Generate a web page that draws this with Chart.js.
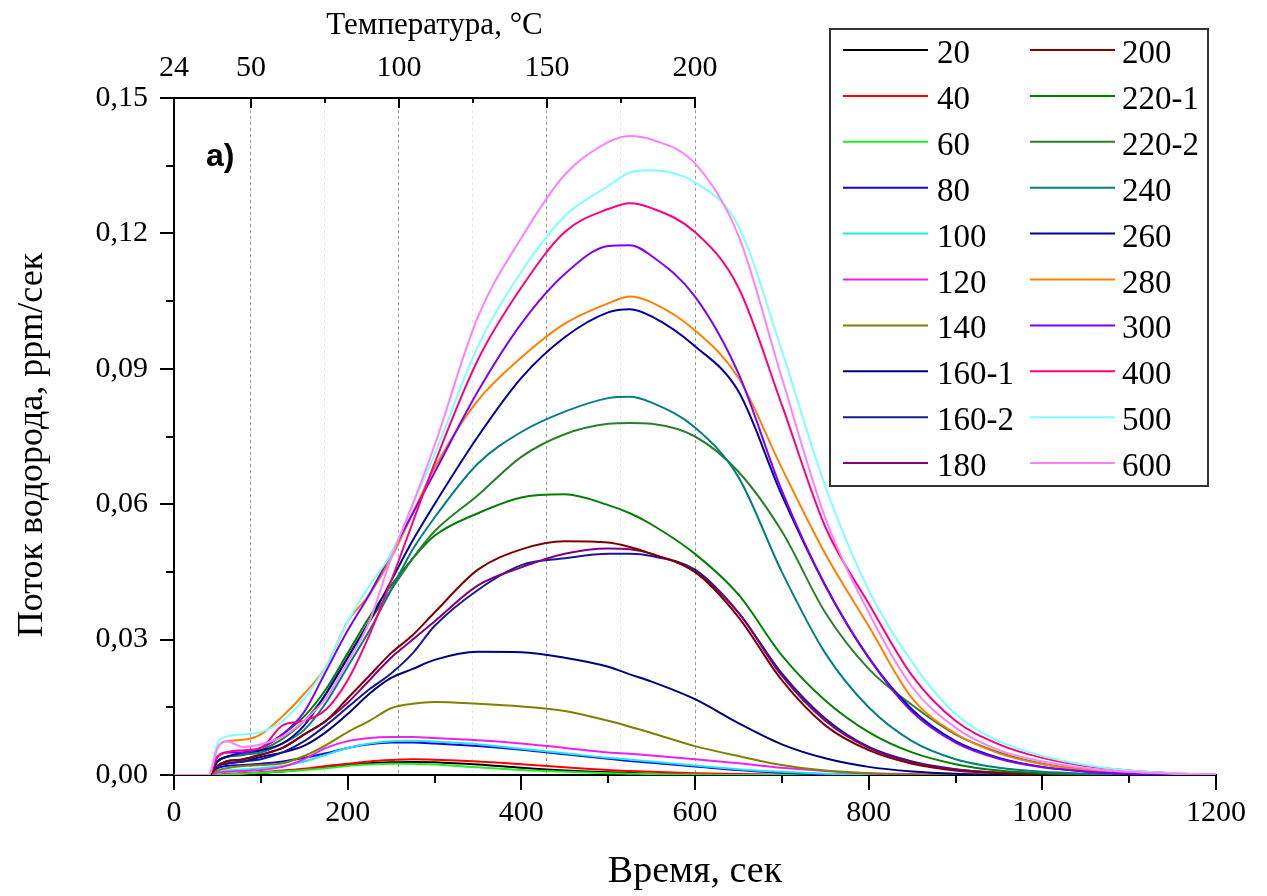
<!DOCTYPE html>
<html><head><meta charset="utf-8">
<script src="https://cdn.jsdelivr.net/npm/chart.js@4.4.0/dist/chart.umd.min.js"></script>
<style>html,body{margin:0;padding:0;background:#fff;}canvas{display:block;}</style>
</head><body>
<canvas id="c" width="1267" height="896"></canvas>
<script>
// ---- data ----
const timeSec = [0,40,50,60,80,100,125,150,175,200,225,250,275,300,350,400,450,500,525,550,600,650,700,750,800,850,900,950,1000,1050,1100,1150,1200];
const seriesLabels = ['20','40','60','80','100','120','140','160-1','160-2','180','200','220-1','220-2','240','260','280','300','400','500','600'];
const seriesColors = ['#000000','#FF0000','#22EE22','#0A0AE0','#20E8E8','#F020F0','#808000','#000080','#1A1A8F','#800080','#800000','#008000','#2A802A','#008080','#0000A0','#FF8000','#8000FF','#FF0080','#80FFFF','#FF80FF'];
const s20   = [0,0,0,0.0001,0.0003,0.0005,0.0008,0.0012,0.0017,0.0022,0.0026,0.0028,0.0029,0.0028,0.0023,0.0016,0.001,0.0006,0.0005,0.0003,0.0002,0.0001,0,0,0,0,0,0,0,0,0,0,0];
const s40   = [0,0,0,0.0002,0.0004,0.0006,0.001,0.0014,0.002,0.0025,0.003,0.0033,0.0035,0.0034,0.003,0.0024,0.0017,0.0011,0.0009,0.0007,0.0004,0.0002,0.0001,0,0,0,0,0,0,0,0,0,0];
const s60   = [0,0,0,0.0001,0.0003,0.0005,0.0008,0.0011,0.0015,0.002,0.0023,0.0025,0.0025,0.0023,0.0017,0.0011,0.0007,0.0004,0.0003,0.0002,0.0001,0,0,0,0,0,0,0,0,0,0,0,0];
const s80   = [0,0,0.0015,0.002,0.0022,0.0025,0.003,0.0038,0.0048,0.006,0.0068,0.0072,0.0072,0.007,0.0064,0.0056,0.0046,0.0036,0.0031,0.0027,0.0019,0.0011,0.0005,0.0002,0.0001,0,0,0,0,0,0,0,0];
const s100  = [0,0,0.0008,0.001,0.0012,0.0015,0.002,0.003,0.0045,0.006,0.007,0.0075,0.0076,0.0074,0.0068,0.0058,0.0048,0.0038,0.0034,0.003,0.0021,0.0013,0.0007,0.0003,0.0001,0,0,0,0,0,0,0,0];
const s120  = [0,0,0.0005,0.0007,0.0009,0.0011,0.0018,0.0035,0.006,0.0075,0.0082,0.0084,0.0084,0.0082,0.0077,0.007,0.006,0.005,0.0047,0.0043,0.0035,0.0026,0.0016,0.0009,0.0004,0.0002,0,0,0,0,0,0,0];
const s140  = [0,0,0.001,0.0015,0.002,0.0022,0.0026,0.0042,0.0066,0.0095,0.012,0.0148,0.0158,0.0162,0.0158,0.0152,0.0142,0.012,0.0107,0.0093,0.0064,0.0042,0.0022,0.001,0.0004,0.0001,0,0,0,0,0,0,0];
const s160a = [0,0,0.002,0.0025,0.003,0.004,0.005,0.0065,0.0095,0.0135,0.018,0.0215,0.0235,0.0255,0.0273,0.0272,0.026,0.024,0.0223,0.0207,0.0168,0.0115,0.0068,0.0037,0.0018,0.0008,0.0003,0.0001,0,0,0,0,0];
const s160b = [0,0,0.002,0.0025,0.003,0.0035,0.005,0.0075,0.011,0.015,0.019,0.0225,0.027,0.033,0.041,0.0465,0.048,0.049,0.049,0.0485,0.0455,0.036,0.0225,0.0125,0.0062,0.003,0.0013,0.0005,0.0002,0,0,0,0];
const s180  = [0,0,0.002,0.003,0.0035,0.0045,0.006,0.009,0.012,0.016,0.021,0.026,0.03,0.034,0.042,0.046,0.049,0.0502,0.05,0.049,0.045,0.036,0.022,0.012,0.006,0.0028,0.0012,0.0005,0.0002,0,0,0,0];
const s200  = [0,0,0.002,0.003,0.0035,0.0045,0.006,0.009,0.012,0.017,0.022,0.027,0.031,0.036,0.0455,0.05,0.0518,0.0515,0.0505,0.049,0.045,0.035,0.021,0.011,0.0055,0.0025,0.001,0.0004,0.0001,0,0,0,0];
const s220a = [0,0,0.003,0.004,0.0045,0.006,0.009,0.013,0.019,0.027,0.035,0.042,0.048,0.053,0.058,0.0615,0.0622,0.0598,0.058,0.0555,0.049,0.04,0.0265,0.0165,0.0095,0.005,0.0024,0.001,0.0004,0.0001,0,0,0];
const s220b = [0,0,0.003,0.004,0.0045,0.0055,0.008,0.012,0.018,0.026,0.034,0.041,0.048,0.054,0.062,0.0705,0.0755,0.0778,0.078,0.0778,0.075,0.0672,0.054,0.036,0.0235,0.0155,0.009,0.005,0.0025,0.0012,0.0005,0.0002,0];
const s240  = [0,0,0.003,0.004,0.0045,0.005,0.007,0.01,0.016,0.024,0.032,0.041,0.05,0.057,0.069,0.076,0.0805,0.0835,0.0838,0.0825,0.077,0.066,0.045,0.027,0.015,0.0075,0.0035,0.0016,0.0007,0.0003,0.0001,0,0];
const s260  = [0,0,0.003,0.004,0.005,0.0055,0.007,0.011,0.018,0.026,0.034,0.043,0.052,0.06,0.075,0.088,0.097,0.1025,0.1032,0.1016,0.095,0.085,0.062,0.042,0.026,0.0145,0.0075,0.0038,0.0018,0.0008,0.0003,0.0001,0];
const s280  = [0,0,0.006,0.0075,0.0078,0.009,0.013,0.018,0.024,0.034,0.04,0.048,0.058,0.068,0.083,0.0925,0.1,0.1045,0.106,0.1047,0.0985,0.088,0.068,0.049,0.033,0.017,0.0092,0.0048,0.0024,0.0011,0.0005,0.0002,0];
const s300  = [0,0,0.004,0.005,0.005,0.006,0.009,0.014,0.023,0.032,0.04,0.049,0.058,0.067,0.085,0.1,0.111,0.1172,0.1174,0.115,0.106,0.089,0.063,0.042,0.026,0.014,0.0072,0.0036,0.0017,0.0008,0.0003,0.0001,0];
const s400  = [0,0,0.004,0.005,0.0055,0.006,0.011,0.012,0.0145,0.021,0.031,0.043,0.056,0.069,0.092,0.108,0.1203,0.1254,0.1267,0.1256,0.1203,0.108,0.082,0.055,0.038,0.022,0.012,0.0068,0.0038,0.002,0.001,0.0004,0.0001];
const s500  = [0,0,0.007,0.0085,0.009,0.0095,0.012,0.017,0.024,0.034,0.042,0.049,0.06,0.071,0.095,0.1115,0.1238,0.1305,0.1335,0.134,0.1313,0.1216,0.094,0.064,0.041,0.025,0.0135,0.0075,0.0042,0.0022,0.001,0.0004,0.0001];
const s600  = [0,0,0.006,0.0075,0.0062,0.0068,0.0085,0.012,0.017,0.025,0.034,0.048,0.06,0.073,0.1015,0.119,0.133,0.1402,0.1416,0.1408,0.1355,0.1195,0.088,0.057,0.036,0.0195,0.0105,0.0055,0.003,0.0015,0.0007,0.0003,0.0001];
const seriesValues = [s20,s40,s60,s80,s100,s120,s140,s160a,s160b,s180,s200,s220a,s220b,s240,s260,s280,s300,s400,s500,s600];

const xTickValues = [0,100,200,300,400,500,600,700,800,900,1000,1100,1200];
const xLabelValues = [0,200,400,600,800,1000,1200];
const yTickValues = [0,0.015,0.03,0.045,0.06,0.075,0.09,0.105,0.12,0.135,0.15];
const yLabelValues = [0,0.03,0.06,0.09,0.12,0.15];
const tempTicks = [24,50,75,100,125,150,175,200];
const tempLabels = [24,50,100,150,200];
const tempStart = 24, tempPerSec = 176/600; // temperature axis: T = 24 + t*176/600

// ---- chart ----
const serif = "'Liberation Serif','Times New Roman',serif";
const isLabelY = v => yLabelValues.some(l => Math.abs(l - v) < 1e-9);

const datasets = seriesLabels.map((lab, i) => ({
  label: lab,
  data: timeSec.map((t, j) => ({x: t, y: seriesValues[i][j]})),
  borderColor: seriesColors[i],
  backgroundColor: seriesColors[i],
  borderWidth: 2,
  pointRadius: 0,
  fill: false,
  cubicInterpolationMode: 'monotone',
  order: seriesLabels.length - i
}));

const extras = {
  id: 'extras',
  afterDraw(chart) {
    const ctx = chart.ctx, a = chart.chartArea;
    const sx = chart.scales.x, sy = chart.scales.y, st = chart.scales.x2;
    ctx.save();
    ctx.strokeStyle = '#000'; ctx.lineWidth = 2; ctx.lineCap = 'butt';
    // bottom ticks
    xTickValues.forEach(v => {
      const p = Math.round(sx.getPixelForValue(v));
      const len = xLabelValues.includes(v) ? 15 : 8;
      ctx.beginPath(); ctx.moveTo(p, a.bottom); ctx.lineTo(p, a.bottom + len); ctx.stroke();
    });
    // left ticks
    yTickValues.forEach(v => {
      const p = Math.round(sy.getPixelForValue(v));
      const len = isLabelY(v) ? 14 : 8;
      ctx.beginPath(); ctx.moveTo(a.left - len, p); ctx.lineTo(a.left, p); ctx.stroke();
    });
    // top temperature axis line and inward ticks
    const t0 = st.getPixelForValue(tempTicks[0]);
    const t1 = st.getPixelForValue(tempTicks[tempTicks.length - 1]);
    ctx.beginPath(); ctx.moveTo(a.left - 1, a.top); ctx.lineTo(t1 + 1, a.top); ctx.stroke();
    tempTicks.forEach(v => {
      const p = Math.round(st.getPixelForValue(v));
      const len = tempLabels.includes(v) ? 10 : 5;
      ctx.beginPath(); ctx.moveTo(p, a.top); ctx.lineTo(p, a.top + len); ctx.stroke();
    });
    ctx.fillStyle = '#000';
    // top axis title
    ctx.font = "31px " + serif;
    ctx.textAlign = 'center'; ctx.textBaseline = 'alphabetic';
    ctx.fillText('Температура, °C', (t0 + t1) / 2, 34);
    // left axis title
    ctx.save();
    ctx.translate(33, 445);
    ctx.rotate(-Math.PI / 2);
    ctx.font = "36px " + serif;
    ctx.textAlign = 'center'; ctx.textBaseline = 'middle';
    ctx.fillText('Поток водорода, ppm/сек', 0, 0);
    ctx.restore();
    // panel label
    ctx.font = "bold 32px 'Liberation Sans',Arial,sans-serif";
    ctx.textAlign = 'left'; ctx.textBaseline = 'alphabetic';
    ctx.fillText('a)', 206, 166);
    // legend
    const bx = 830, by = 29, bw = 378, bh = 457;
    ctx.fillStyle = '#fff'; ctx.fillRect(bx, by, bw, bh);
    ctx.strokeStyle = '#333'; ctx.lineWidth = 2; ctx.strokeRect(bx, by, bw, bh);
    ctx.font = "33px " + serif; ctx.textAlign = 'left'; ctx.textBaseline = 'alphabetic';
    chart.data.datasets.forEach((ds, i) => {
      const col = Math.floor(i / 10), row = i % 10;
      const ly = 50 + row * 45.9;
      const lx0 = col ? 1030 : 843, lx1 = col ? 1115 : 928, tx = col ? 1122 : 937;
      ctx.strokeStyle = ds.borderColor; ctx.lineWidth = 2;
      ctx.beginPath(); ctx.moveTo(lx0, ly); ctx.lineTo(lx1, ly); ctx.stroke();
      ctx.fillStyle = '#000';
      ctx.fillText(ds.label, tx, ly + 13);
    });
    ctx.restore();
  }
};

new Chart(document.getElementById('c'), {
  type: 'line',
  data: {datasets},
  options: {
    responsive: false, animation: false, devicePixelRatio: 1, events: [],
    layout: {padding: {left: 0, right: 51, top: 0, bottom: 0}},
    plugins: {legend: {display: false}, tooltip: {enabled: false}},
    scales: {
      x: {
        type: 'linear', position: 'bottom', min: 0, max: 1200,
        afterBuildTicks: s => { s.ticks = xTickValues.map(v => ({value: v})); },
        ticks: {autoSkip: false, maxRotation: 0, padding: 20, color: '#000', font: {family: serif, size: 30},
                callback: v => xLabelValues.includes(v) ? String(v) : ''},
        grid: {display: false, drawTicks: false},
        border: {display: true, color: '#000', width: 2},
        title: {display: true, text: 'Время, сек', color: '#000', font: {family: serif, size: 38}, padding: {top: 0, bottom: 1}},
        afterFit: s => { s.height = 121; }
      },
      y: {
        type: 'linear', position: 'left', min: 0, max: 0.15,
        afterBuildTicks: s => { s.ticks = yTickValues.map(v => ({value: v})); },
        ticks: {autoSkip: false, padding: 26, color: '#000', font: {family: serif, size: 30},
                callback: v => isLabelY(v) ? v.toFixed(2).replace('.', ',') : ''},
        grid: {display: false, drawTicks: false},
        border: {display: true, color: '#000', width: 2},
        title: {display: false},
        afterFit: s => { s.width = 174; }
      },
      x2: {
        type: 'linear', position: 'top', min: tempStart, max: tempStart + 1200 * tempPerSec,
        afterBuildTicks: s => { s.ticks = tempTicks.map(v => ({value: v})); },
        ticks: {autoSkip: false, maxRotation: 0, padding: 12, color: '#000', font: {family: serif, size: 30},
                callback: v => tempLabels.includes(v) ? String(v) : ''},
        grid: {display: true, drawOnChartArea: true, drawTicks: false, lineWidth: 1,
               color: c => { const v = c.tick ? c.tick.value : null; if (v === tempStart) return 'rgba(0,0,0,0)'; return tempLabels.includes(v) ? '#9a9a9a' : '#e6e6e6'; }},
        border: {display: false, dash: [3, 3]},
        afterFit: s => { s.height = 98; }
      }
    }
  },
  plugins: [extras]
});
</script>
</body></html>
